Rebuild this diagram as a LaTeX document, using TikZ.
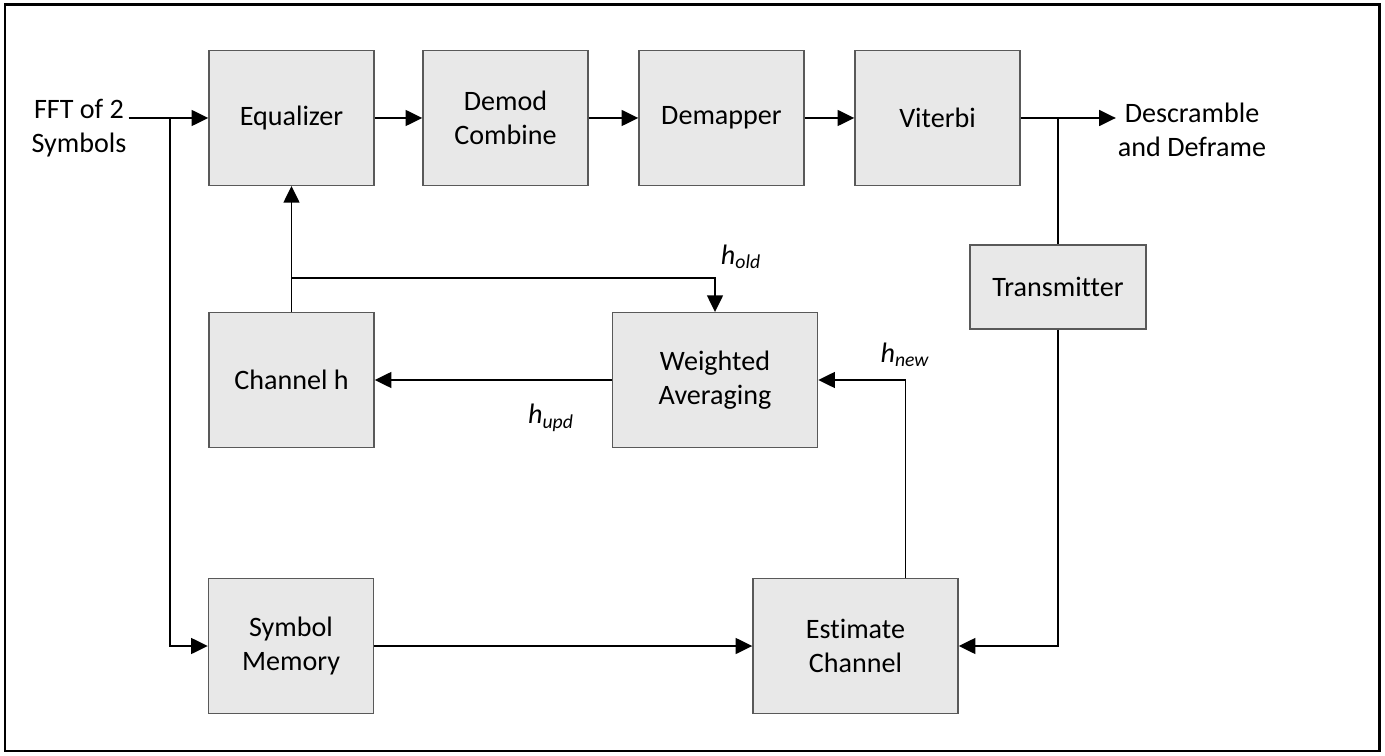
\documentclass[tikz,border=0pt]{standalone}
\usepackage{fontspec}
\setmainfont{Carlito}[Ligatures=NoCommon]
\usepackage{tikz}
\usetikzlibrary{positioning}
\usetikzlibrary{arrows.meta}
\tikzstyle{block}=[rectangle,draw=black!65,fill=black!9,line width=0.8pt,minimum width=3.3cm,minimum height=2.69cm,inner sep=0pt,align=center,font=\fontsize{16}{19.5}\selectfont]
\tikzstyle{wideblock}=[block,minimum width=4.1cm]
\tikzstyle{txblock}=[block,minimum width=3.52cm,minimum height=1.68cm]
\tikzstyle{io}=[align=center,inner sep=1pt,font=\fontsize{16}{19.5}\selectfont]
\tikzstyle{weight}=[font=\fontsize{16}{19}\selectfont\itshape]
\tikzstyle{arrow}=[-{Triangle[length=9.5pt,width=9pt]},line width=1.1pt]
\tikzstyle{line}=[-,line width=1.1pt]

\begin{document}
\begin{tikzpicture}[x=0.02cm,y=-0.02cm]

\useasboundingbox (0,0) rectangle (1385,756);
\draw[line width=1.7pt] (5,5) rectangle (1379,751);

%Top row
    \foreach \pos/\name/\label in {{(291.5,118)/eq/Equalizer}, {(505.5,118)/dem/Demod\\Combine}, {(721.5,118)/map/Demapper}, {(937.5,118)/vit/Viterbi}}
        \node[block] (\name) at \pos {\label};

  \foreach \source/ \dest in {eq/dem, dem/map, map/vit}
          \draw[arrow] (\source) -- (\dest);

%In and out
\node[io] (fft) at (79,128) {FFT of 2\\Symbols};
\node[io] (out) at (1192,130) {Descramble\\and Deframe};
\coordinate (split) at (170,118);
\coordinate (tap) at (1058,118);
\draw[arrow] (fft.east |- eq) -- (eq);
\draw[arrow] (vit) -- (out.west |- vit);

%Channel loop
\node[block] (ch) at (291.5,380) {Channel h};
\node[wideblock] (wa) at (715,380) {Weighted\\Averaging};
\node[txblock] (tx) at (1058,287) {Transmitter};
\coordinate (old) at (291.5,278);

\draw[arrow] (ch) -- (eq);
\draw[arrow] (old) -| (wa.north);
\draw[arrow] (wa) -- (ch);

%Bottom row
\node[block] (sym) at (291,646) {Symbol\\Memory};
\node[wideblock] (est) at (855.5,646) {Estimate\\Channel};

\draw[arrow] (split) |- (sym);
\draw[arrow] (sym) -- (est);
\draw[arrow] ([xshift=1cm]est.north) |- (wa.east);
\draw[line] (tap) -- (tx.north);
\draw[arrow] (tx.south) |- (est.east);

\node[weight] (hold) at (741,257) {h\textsubscript{old}};
\node[weight] (hupd) at (551,418) {h\textsubscript{upd}};
\node[weight] (hnew) at (905,355) {h\textsubscript{new}};

   \end{tikzpicture}
\end{document}
